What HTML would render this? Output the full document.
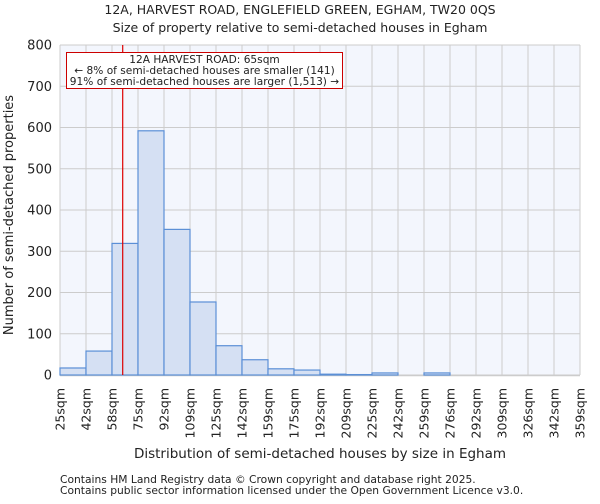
<!DOCTYPE html>
<html><head><meta charset="utf-8"><style>
body{margin:0;background:#fff;font-family:"DejaVu Sans","Liberation Sans",sans-serif;}
svg text{font-family:"DejaVu Sans","Liberation Sans",sans-serif;fill:#222;}
</style></head><body>
<svg id="chart" width="600" height="500" xmlns="http://www.w3.org/2000/svg">
<text x="300" y="14" text-anchor="middle" font-size="12.5">12A, HARVEST ROAD, ENGLEFIELD GREEN, EGHAM, TW20 0QS</text>
<text x="300" y="32" text-anchor="middle" font-size="12.5">Size of property relative to semi-detached houses in Egham</text>
<rect x="60" y="45" width="520" height="330" fill="#f3f6fd"/>
<g id="grid"></g><g id="bars"></g><g id="yticks"></g><g id="xticks"></g>
<line id="marker" stroke="#d00" stroke-width="1.2"/>
<g>
<rect x="66.5" y="52.5" width="276" height="36" fill="#fff" stroke="#c00" stroke-width="1"/>
<text x="204.5" y="63" text-anchor="middle" font-size="10.6">12A HARVEST ROAD: 65sqm</text>
<text x="204.5" y="74" text-anchor="middle" font-size="10.6">← 8% of semi-detached houses are smaller (141)</text>
<text x="204.5" y="85" text-anchor="middle" font-size="10.6">91% of semi-detached houses are larger (1,513) →</text>
</g>
<text transform="translate(13,215) rotate(-90)" text-anchor="middle" font-size="13" fill="#333">Number of semi-detached properties</text>
<text x="320" y="458" text-anchor="middle" font-size="13.5">Distribution of semi-detached houses by size in Egham</text>
<text x="60" y="483" font-size="10.7" fill="#444">Contains HM Land Registry data © Crown copyright and database right 2025.</text>
<text x="60" y="494" font-size="10.7" fill="#444">Contains public sector information licensed under the Open Government Licence v3.0.</text>
</svg>
<script>
const binLabels=["25sqm","42sqm","58sqm","75sqm","92sqm","109sqm","125sqm","142sqm","159sqm","175sqm","192sqm","209sqm","225sqm","242sqm","259sqm","276sqm","292sqm","309sqm","326sqm","342sqm","359sqm"];
const binEdges=[25,42,58,75,92,109,125,142,159,175,192,209,225,242,259,276,292,309,326,342,359];
const counts=[17,58,319,592,353,177,71,37,15,12,2,1,5,0,5,0,0,0,0,0];
const yTicks=[0,100,200,300,400,500,600,700,800];
const markerValue=65;
const NS="http://www.w3.org/2000/svg";
const X0=60,X1=580,Y0=375,Y1=45,YMAX=800;
const n=counts.length;
function xIdx(i){return X0+(X1-X0)*i/n;}
function xVal(v){let i=0;while(i<binEdges.length-2&&v>binEdges[i+1])i++;return xIdx(i+(v-binEdges[i])/(binEdges[i+1]-binEdges[i]));}
function y(v){return Y0-(Y0-Y1)*v/YMAX;}
function mk(tag,attrs,parent){const e=document.createElementNS(NS,tag);for(const k in attrs)e.setAttribute(k,attrs[k]);document.getElementById(parent).appendChild(e);return e;}
yTicks.forEach(t=>{
 const g=mk('line',{x1:X0,x2:X1,y1:y(t),y2:y(t),stroke:'#ccc','stroke-width':1},'grid');
 
 
 const tx=mk('text',{x:X0-8,y:y(t)+4.5,'text-anchor':'end','font-size':13},'yticks');
 
 
 tx.textContent=t;
});
binLabels.forEach((l,i)=>{
 const g=mk('line',{x1:xIdx(i),x2:xIdx(i),y1:Y1,y2:Y0,stroke:'#ccc','stroke-width':1},'grid');
 
 
 const tx=mk('text',{transform:`translate(${xIdx(i)+4.5},388) rotate(-90)`,'text-anchor':'end','font-size':12.5},'xticks');
 
 
 tx.textContent=l;
});
counts.forEach((c,i)=>{
 if(c<=0)return;
 const r=mk('rect',{x:xIdx(i),y:y(c),width:xIdx(i+1)-xIdx(i),height:Y0-y(c),fill:'#d5e0f3',stroke:'#5b8fd6','stroke-width':1.2},'bars');
 
 
});
const ax=mk('line',{x1:X0,x2:X1,y1:Y0+0.5,y2:Y0+0.5,stroke:'#ccc','stroke-width':1.5},'grid');


const m=document.getElementById('marker');
const mx=xVal(markerValue);
m.setAttribute('x1',mx);m.setAttribute('x2',mx);m.setAttribute('y1',Y1);m.setAttribute('y2',Y0);
</script>
</body></html>
